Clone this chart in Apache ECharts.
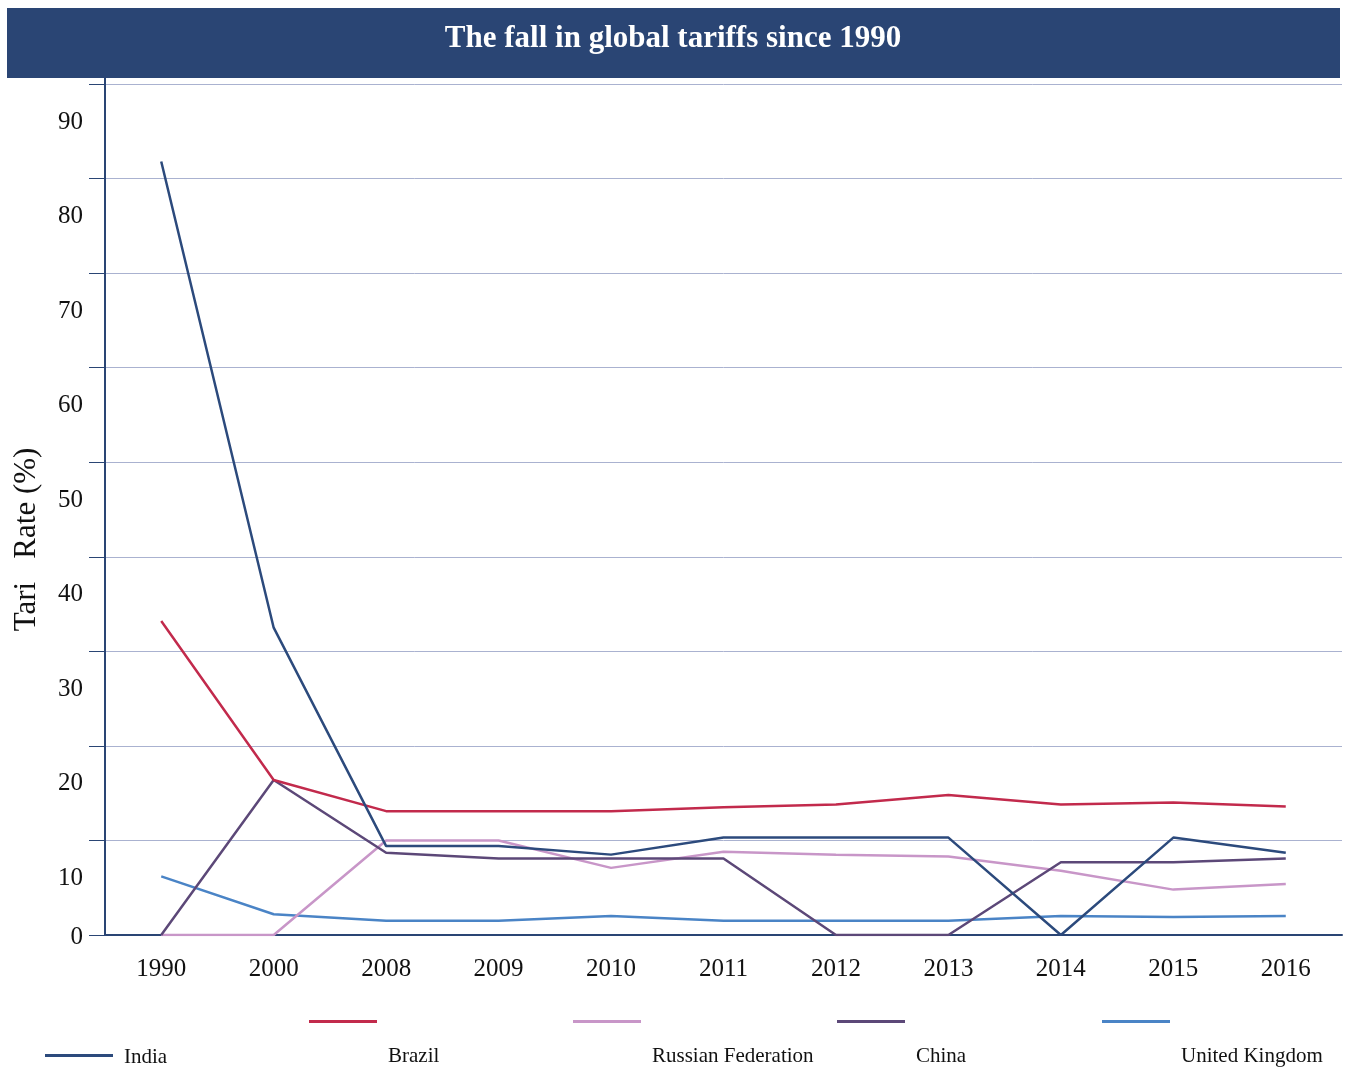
<!DOCTYPE html>
<html><head><meta charset="utf-8">
<script src="https://cdn.jsdelivr.net/npm/echarts@6/dist/echarts.min.js"></script>
<style>html,body{margin:0;padding:0;background:#fff}#c{width:1346px;height:1068px}</style>
</head><body><div id="c"></div>
<script>
const years = ['1990','2000','2008','2009','2010','2011','2012','2013','2014','2015','2016'];
const india   = [81.8, 32.5, 9.4, 9.4, 8.5, 10.3, 10.3, 10.3, 0, 10.3, 8.7];
const brazil  = [33.2, 16.4, 13.1, 13.1, 13.1, 13.5, 13.8, 14.8, 13.8, 14.0, 13.6];
const russia  = [0, 0, 10.0, 10.0, 7.1, 8.8, 8.5, 8.3, 6.8, 4.8, 5.4];
const china   = [0, 16.4, 8.7, 8.1, 8.1, 8.1, 0, 0, 7.7, 7.7, 8.1];
const uk      = [6.2, 2.2, 1.5, 1.5, 2.0, 1.5, 1.5, 1.5, 2.0, 1.9, 2.0];
const names = ['India','Brazil','Russian Federation','China','United Kingdom'];
const colors = ['#2c4a7c','#c22a4c','#c896c8','#5c4878','#4a84c6'];
const seriesData = [india, brazil, russia, china, uk];

const serif = '"Liberation Serif","Times New Roman",serif';
const navy = '#2a4574';
const legendLeft = [45, 309, 573, 837, 1102];

const legends = names.map((n, i) => ({
  data: [n],
  left: legendLeft[i],
  top: i === 0 ? 1043 : 976,
  padding: 0,
  icon: 'rect',
  itemWidth: 68,
  itemHeight: 3,
  itemGap: 0,
  selectedMode: false,
  formatter: '{a|{name}}',
  textStyle: {
    fontFamily: serif, fontSize: 21, color: '#111',
    rich: {a: {fontFamily: serif, fontSize: 21, color: '#111', lineHeight: 22,
      padding: i === 0 ? [4,0,0,6] : [70,0,0,6]}}
  }
}));

const chart = echarts.init(document.getElementById('c'), null, {renderer: 'canvas'});
chart.setOption({
  animation: false,
  backgroundColor: '#fff',
  color: colors,
  graphic: [
    {type: 'rect', shape: {x: 7, y: 8, width: 1333, height: 70}, style: {fill: navy}, z: 0},
    {type: 'line', shape: {x1: 105, y1: 78, x2: 105, y2: 85}, style: {stroke: navy, lineWidth: 2}, z: 10}
  ],
  title: {
    text: 'The fall in global tariffs since 1990',
    left: 'center', top: 18,
    textStyle: {fontFamily: serif, fontWeight: 'bold', fontSize: 31, color: '#fff'}
  },
  legend: legends,
  grid: {left: 105, right: 4, top: 84, bottom: 133, containLabel: false, outerBoundsMode: 'none'},
  xAxis: {
    type: 'category',
    data: years,
    boundaryGap: true,
    axisLine: {lineStyle: {color: navy, width: 2}},
    axisTick: {alignWithLabel: true, length: 15, lineStyle: {color: navy, width: 1}},
    axisLabel: {fontFamily: serif, fontSize: 25, color: '#111', margin: 22},
    splitLine: {show: false}
  },
  yAxis: {
    type: 'value',
    min: 0, max: 90, interval: 10,
    name: 'Tari   Rate (%)',
    nameLocation: 'middle',
    nameGap: 63,
    nameTextStyle: {fontFamily: serif, fontSize: 31, color: '#111', padding: [0, 60, 0, 0]},
    axisLine: {show: true, onZero: false, lineStyle: {color: navy, width: 2}},
    axisTick: {show: true, length: 16, lineStyle: {color: navy, width: 1}},
    axisLabel: {
      margin: 22,
      formatter: v => v === 0 ? '{z|0}' : '{n|' + v + '}',
      rich: {
        n: {fontFamily: serif, fontSize: 25, color: '#111', padding: [76,0,0,0]},
        z: {fontFamily: serif, fontSize: 25, color: '#111', padding: [4,0,0,0]}
      }
    },
    splitLine: {lineStyle: {color: '#aab2d0', width: 1}}
  },
  series: names.map((n, i) => ({
    name: n,
    type: 'line',
    data: seriesData[i],
    symbol: 'none',
    lineStyle: {width: 2.5, color: colors[i]},
    itemStyle: {color: colors[i]},
    z: [5,4,2,3,1][i]
  }))
});
</script></body></html>
